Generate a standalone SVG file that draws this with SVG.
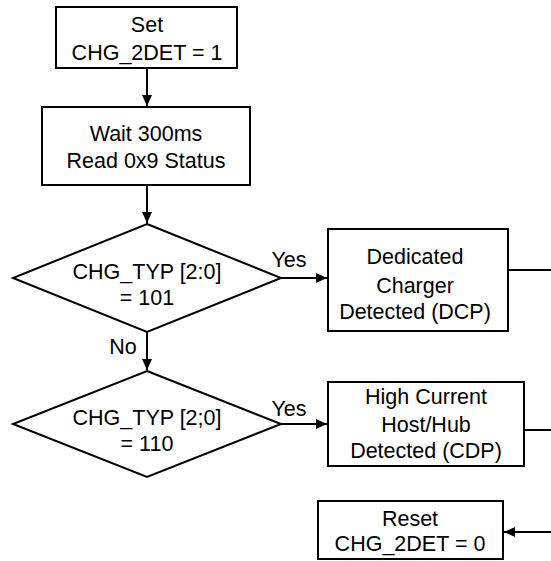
<svg xmlns="http://www.w3.org/2000/svg" width="551" height="561" viewBox="0 0 551 561">
<style>
.box{fill:#fff;stroke:#000;stroke-width:2}
.ln{fill:none;stroke:#000;stroke-width:2}
text{font-family:"Liberation Sans",Arial,sans-serif;font-size:21.5px;fill:#000;text-anchor:middle}
</style>
<defs>
<marker id="ah" markerWidth="11" markerHeight="11" refX="11" refY="5.5" orient="auto" markerUnits="userSpaceOnUse">
<path d="M0,0.5 L11,5.5 L0,10.5 Z" fill="#000"/>
</marker>
</defs>
<g id="connectors">
<line class="ln" x1="147" y1="68" x2="147" y2="106" marker-end="url(#ah)"/>
<line class="ln" x1="147" y1="185" x2="147" y2="223" marker-end="url(#ah)"/>
<line class="ln" x1="147" y1="332" x2="147" y2="370" marker-end="url(#ah)"/>
<line class="ln" x1="281" y1="278" x2="327" y2="278" marker-end="url(#ah)"/>
<line class="ln" x1="281" y1="424" x2="327" y2="424" marker-end="url(#ah)"/>
<line class="ln" x1="508" y1="270" x2="551" y2="270"/>
<line class="ln" x1="524" y1="430" x2="551" y2="430"/>
<line class="ln" x1="551" y1="532" x2="504" y2="532" marker-end="url(#ah)"/>
<text x="289" y="267">Yes</text>
<text x="123" y="354">No</text>
<text x="289" y="416">Yes</text>
</g>
<g id="set">
<rect class="box" x="56" y="7" width="181" height="61"/>
<text x="147" y="32">Set</text>
<text x="147" y="60">CHG_2DET = 1</text>
</g>
<g id="wait">
<rect class="box" x="42" y="107" width="208" height="78"/>
<text x="146" y="141">Wait 300ms</text>
<text x="146" y="168">Read 0x9 Status</text>
</g>
<g id="dec1">
<polygon class="box" points="147,224 281,278 147,332 13,278"/>
<text x="147" y="279">CHG_TYP [2:0]</text>
<text x="147" y="305">= 101</text>
</g>
<g id="dcp">
<rect class="box" x="328" y="229" width="180" height="102"/>
<text x="415" y="264">Dedicated</text>
<text x="415" y="293">Charger</text>
<text x="415" y="319">Detected (DCP)</text>
</g>
<g id="dec2">
<polygon class="box" points="147,371 281,424 147,477 13,424"/>
<text x="147" y="425">CHG_TYP [2;0]</text>
<text x="147" y="451">= 110</text>
</g>
<g id="cdp">
<rect class="box" x="328" y="382" width="196" height="84"/>
<text x="426" y="404">High Current</text>
<text x="426" y="432">Host/Hub</text>
<text x="426" y="458">Detected (CDP)</text>
</g>
<g id="reset">
<rect class="box" x="318" y="501" width="185" height="58"/>
<text x="410" y="526">Reset</text>
<text x="410" y="551">CHG_2DET = 0</text>
</g>
</svg>
